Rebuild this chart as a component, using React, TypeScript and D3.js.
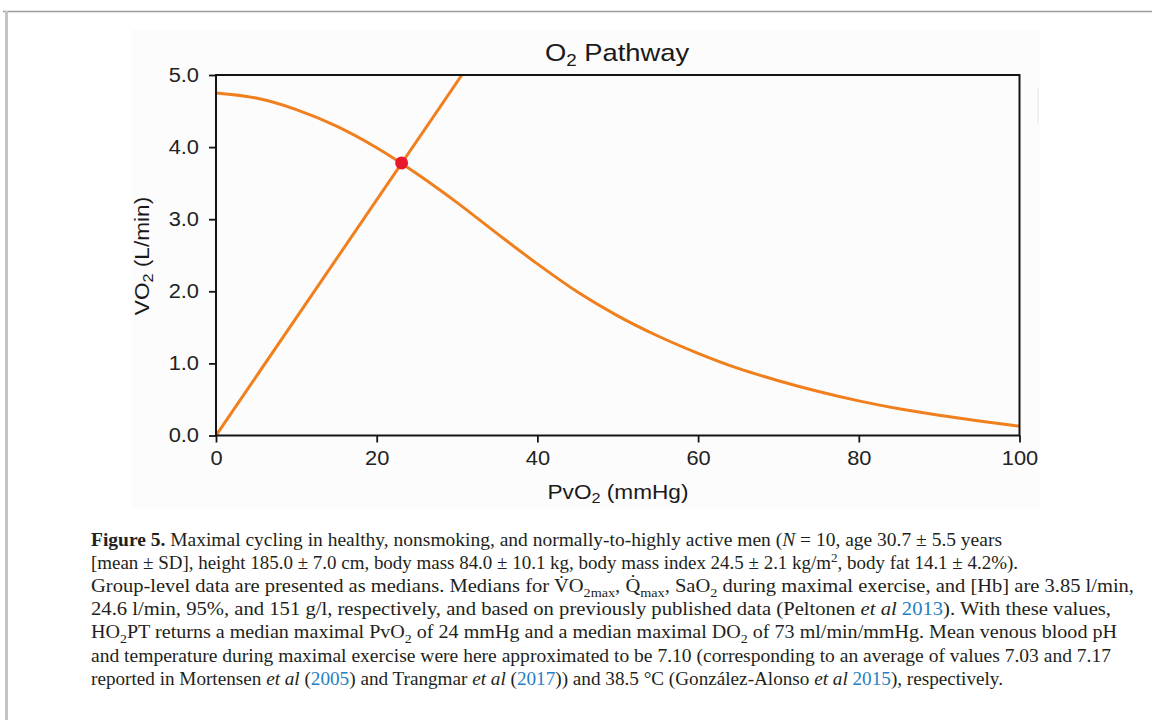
import React, { useRef, useEffect } from 'react';
import * as d3 from 'd3';

// convective O2 transport curve (Fick principle)
const pvo2 = [0, 5, 10, 15, 20, 25, 30, 35, 40, 45, 50, 55, 60, 65, 70, 75, 80, 85, 90, 95, 100];
const vo2Convective = [4.75, 4.68, 4.52, 4.29, 3.99, 3.63, 3.23, 2.8, 2.38, 1.99, 1.66, 1.38, 1.14, 0.93, 0.76, 0.61, 0.48, 0.37, 0.28, 0.2, 0.13];

// diffusive O2 transport line
const diffusionPvo2 = [0, 30.6];
const diffusionVo2 = [0, 5.0];

// intersection point
const maxPvo2 = [23.1];
const maxVo2 = [3.78];

const xTicks = [0, 20, 40, 60, 80, 100];
const yTicks = [0, 1, 2, 3, 4, 5];
const yTickLabels = ['0.0', '1.0', '2.0', '3.0', '4.0', '5.0'];

type Seg = [string, string?];

const captionLines: Seg[][] = [
  [['Figure 5.', 'b'], [' Maximal cycling in healthy, nonsmoking, and normally-to-highly active men ('], ['N', 'i'], [' = 10, age 30.7 ± 5.5 years']],
  [['[mean ± SD], height 185.0 ± 7.0 cm, body mass 84.0 ± 10.1 kg, body mass index 24.5 ± 2.1 kg/m'], ['2', 'sup'], [', body fat 14.1 ± 4.2%).']],
  [['Group-level data are presented as medians. Medians for V\u0307O'], ['2max', 'sub'], [', Q\u0307'], ['max', 'sub'], [', SaO'], ['2', 'sub'], [' during maximal exercise, and [Hb] are 3.85 l/min,']],
  [['24.6 l/min, 95%, and 151 g/l, respectively, and based on previously published data (Peltonen '], ['et al', 'i'], [' '], ['2013', 'a'], ['). With these values,']],
  [['HO'], ['2', 'sub'], ['PT returns a median maximal PvO'], ['2', 'sub'], [' of 24 mmHg and a median maximal DO'], ['2', 'sub'], [' of 73 ml/min/mmHg. Mean venous blood pH']],
  [['and temperature during maximal exercise were here approximated to be 7.10 (corresponding to an average of values 7.03 and 7.17']],
  [['reported in Mortensen '], ['et al', 'i'], [' ('], ['2005', 'a'], [') and Trangmar '], ['et al', 'i'], [' ('], ['2017', 'a'], [')) and 38.5 °C (González-Alonso '], ['et al', 'i'], [' '], ['2015', 'a'], ['), respectively.']],
];
const captionWidths = [911, 927, 1043, 1020, 1026, 1020, 912];

const SANS = '"Liberation Sans", Arial, sans-serif';
const SERIF = '"Liberation Serif", "Times New Roman", serif';
const ORANGE = '#f07f1e';
const STRETCH = 1.12;

const App = () => {
  const chartRef = useRef<SVGGElement>(null);

  useEffect(() => {
    const g = d3.select(chartRef.current);
    g.selectAll('*').remove();

    const x = d3.scaleLinear().domain([0, 100]).range([216, 1019.5]);
    const y = d3.scaleLinear().domain([0, 5]).range([435.5, 75]);

    g.append('clipPath').attr('id', 'plot-clip')
      .append('rect')
      .attr('x', x(0)).attr('y', y(5))
      .attr('width', x(100) - x(0)).attr('height', y(0) - y(5));

    const line = d3.line<[number, number]>()
      .x(d => x(d[0]))
      .y(d => y(d[1]));

    // diffusion line
    g.append('path')
      .datum(diffusionPvo2.map((p, i) => [p, diffusionVo2[i]] as [number, number]))
      .attr('clip-path', 'url(#plot-clip)')
      .attr('fill', 'none')
      .attr('stroke', ORANGE)
      .attr('stroke-width', 3)
      .attr('d', line);

    // convective curve
    g.append('path')
      .datum(pvo2.map((p, i) => [p, vo2Convective[i]] as [number, number]))
      .attr('clip-path', 'url(#plot-clip)')
      .attr('fill', 'none')
      .attr('stroke', ORANGE)
      .attr('stroke-width', 3)
      .attr('d', line.curve(d3.curveMonotoneX));

    g.selectAll('circle.max')
      .data(maxPvo2)
      .enter()
      .append('circle')
      .attr('class', 'max')
      .attr('cx', d => x(d))
      .attr('cy', (d, i) => y(maxVo2[i]))
      .attr('r', 6.5)
      .attr('fill', '#e8192c');

    // frame
    g.append('rect')
      .attr('x', x(0)).attr('y', y(5))
      .attr('width', x(100) - x(0)).attr('height', y(0) - y(5))
      .attr('fill', 'none')
      .attr('stroke', '#141414')
      .attr('stroke-width', 2);

    const styleAxis = (ax: d3.Selection<SVGGElement, unknown, null, undefined>) => {
      ax.attr('font-family', SANS).attr('font-size', 19.5);
      ax.select('.domain').remove();
      ax.selectAll('line').attr('stroke', '#141414').attr('stroke-width', 1.8);
      ax.selectAll('text').attr('fill', '#222');
    };

    const gx = g.append('g')
      .attr('transform', `translate(0,${y(0)})`)
      .call(d3.axisBottom(x).tickValues(xTicks).tickSize(7).tickPadding(9).tickFormat(d => String(d)));
    styleAxis(gx);
    gx.selectAll('text').attr('transform', `scale(${STRETCH},1)`);

    const gy = g.append('g')
      .attr('transform', `translate(${x(0)},0)`)
      .call(d3.axisLeft(y).tickValues(yTicks).tickSize(7).tickPadding(10).tickFormat((d, i) => yTickLabels[i]));
    styleAxis(gy);
    gy.selectAll('text')
      .attr('x', 0)
      .attr('transform', `translate(-17,0) scale(${STRETCH},1)`);

    // title
    const title = g.append('text')
      .attr('transform', 'translate(617,61) scale(1.14,1)')
      .attr('text-anchor', 'middle')
      .attr('font-family', SANS)
      .attr('font-size', 24)
      .attr('fill', '#1a1a1a');
    title.append('tspan').text('O');
    title.append('tspan').attr('font-size', 16.5).attr('dy', 5).text('2');
    title.append('tspan').attr('dy', -5).text(' Pathway');

    // x label
    const xl = g.append('text')
      .attr('transform', 'translate(618,499) scale(1.16,1)')
      .attr('text-anchor', 'middle')
      .attr('font-family', SANS)
      .attr('font-size', 19.5)
      .attr('fill', '#1a1a1a');
    xl.append('tspan').text('PvO');
    xl.append('tspan').attr('font-size', 14).attr('dy', 4).text('2');
    xl.append('tspan').attr('dy', -4).text(' (mmHg)');

    // y label
    const yl = g.append('text')
      .attr('transform', 'translate(149,256) rotate(-90) scale(1.16,1)')
      .attr('text-anchor', 'middle')
      .attr('font-family', SANS)
      .attr('font-size', 19.5)
      .attr('fill', '#1a1a1a');
    yl.append('tspan').text('VO');
    yl.append('tspan').attr('font-size', 14).attr('dy', 4).text('2');
    yl.append('tspan').attr('dy', -4).text(' (L/min)');
  }, []);

  return (
    <svg width={1152} height={720} style={{ position: 'absolute', left: 0, top: 0, background: '#fff' }}>
      {/* page frame */}
      <line x1={3} x2={1152} y1={11.5} y2={11.5} stroke="#9a9a9a" strokeWidth={1.5} />
      <rect x={5} y={11} width={3} height={709} fill="#c4c4c4" />
      {/* faint figure background */}
      <rect x={132} y={30} width={908} height={478} fill="#fcfcfc" />
      <line x1={1038} x2={1038} y1={88} y2={123} stroke="#ececec" strokeWidth={1.5} />
      <g ref={chartRef} />
      <g fontFamily={SERIF} fontSize={19.5} fill="#231f20">
        {captionLines.map((segs, i) => {
          let shift = 0;
          return (
            <text key={i} x={91} y={546 + i * 23.1} textLength={captionWidths[i]} lengthAdjust="spacingAndGlyphs">
              {segs.map(([t, k], j) => {
                const target = k === 'sub' ? 4.5 : k === 'sup' ? -7 : 0;
                const dy = target - shift;
                shift = target;
                return (
                  <tspan
                    key={j}
                    dy={dy !== 0 ? dy : undefined}
                    fontSize={k === 'sub' || k === 'sup' ? 13.5 : undefined}
                    fontWeight={k === 'b' ? 'bold' : undefined}
                    fontStyle={k === 'i' ? 'italic' : undefined}
                    fill={k === 'a' ? '#2580c3' : undefined}
                  >
                    {t}
                  </tspan>
                );
              })}
            </text>
          );
        })}
      </g>
    </svg>
  );
};

export default App;
